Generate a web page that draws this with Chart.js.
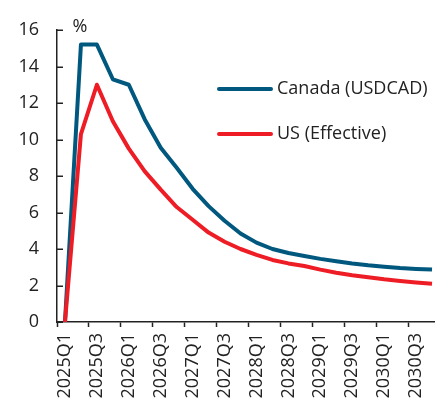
<!DOCTYPE html>
<html>
<head>
<meta charset="utf-8">
<script src="https://cdn.jsdelivr.net/npm/chart.js@4"></script>
<style>
  html, body { margin: 0; padding: 0; background: #fff; overflow: hidden; }
  #wrap { width: 445px; height: 411px; }
</style>
</head>
<body>
<div id="wrap"><canvas id="c" width="445" height="411" style="width:445px;height:411px"></canvas></div>
<script>
// Quarterly categories
const quarters = [
  '2025Q1','2025Q2','2025Q3','2025Q4',
  '2026Q1','2026Q2','2026Q3','2026Q4',
  '2027Q1','2027Q2','2027Q3','2027Q4',
  '2028Q1','2028Q2','2028Q3','2028Q4',
  '2029Q1','2029Q2','2029Q3','2029Q4',
  '2030Q1','2030Q2','2030Q3','2030Q4'
];

// Series values, %
const canadaUSDCAD = [0, 15.2, 15.2, 13.3, 13.0, 11.1, 9.55, 8.45, 7.3, 6.35, 5.55, 4.85,
                      4.35, 4.0, 3.78, 3.62, 3.46, 3.33, 3.21, 3.11, 3.03, 2.96, 2.91, 2.87];
const usEffective  = [0, 10.3, 13.0, 11.0, 9.5, 8.25, 7.25, 6.3, 5.6, 4.9, 4.4, 4.0,
                      3.68, 3.4, 3.21, 3.07, 2.87, 2.7, 2.56, 2.45, 2.34, 2.25, 2.17, 2.1];

// Y-axis tick values and unit
const yTickValues = [0, 2, 4, 6, 8, 10, 12, 14, 16];
const yUnit = '%';

const seriesNames = ['Canada (USDCAD)', 'US (Effective)'];
const BLUE = '#00587f';
const RED = '#ee1c25';
const INK = '#222';
const FONT = '"Open Sans", "Noto Sans", sans-serif';
const FONT_SIZE = 18;

// Inward tick marks on the value axis, the unit label and the inline legend
const decorations = {
  id: 'decorations',
  afterDraw(chart) {
    const { ctx, chartArea } = chart;
    const y = chart.scales.y;
    ctx.save();
    ctx.strokeStyle = INK;
    ctx.lineWidth = 1.5;
    y.ticks.forEach(t => {
      const py = Math.round(y.getPixelForValue(t.value)) + 0.25;
      ctx.beginPath();
      ctx.moveTo(chartArea.left, py);
      ctx.lineTo(chartArea.left + 6, py);
      ctx.stroke();
    });

    ctx.fillStyle = INK;
    ctx.font = FONT_SIZE + 'px ' + FONT;
    ctx.textAlign = 'center';
    ctx.textBaseline = 'middle';
    ctx.fillText(yUnit, chartArea.left + 23, chartArea.top - 3);

    // Legend
    ctx.textAlign = 'left';
    chart.data.datasets.forEach((ds, i) => {
      const ly = chartArea.top + 59 + i * 45;
      ctx.strokeStyle = ds.borderColor;
      ctx.lineWidth = 4;
      ctx.lineCap = 'round';
      ctx.beginPath();
      ctx.moveTo(chartArea.left + 162, ly);
      ctx.lineTo(chartArea.left + 214, ly);
      ctx.stroke();
      ctx.fillStyle = INK;
      ctx.fillText(ds.label, chartArea.left + 220, ly);
    });
    ctx.restore();
  }
};

new Chart(document.getElementById('c'), {
  type: 'line',
  data: {
    labels: quarters,
    datasets: [
      {
        label: seriesNames[0],
        data: canadaUSDCAD,
        borderColor: BLUE,
        backgroundColor: BLUE,
        borderWidth: 4,
        pointRadius: 0,
        tension: 0,
        borderJoinStyle: 'round',
        order: 1
      },
      {
        label: seriesNames[1],
        data: usEffective,
        borderColor: RED,
        backgroundColor: RED,
        borderWidth: 4,
        pointRadius: 0,
        tension: 0,
        borderJoinStyle: 'round',
        order: 0
      }
    ]
  },
  options: {
    responsive: false,
    animation: false,
    layout: { padding: { top: 30, right: 5, left: 0, bottom: 0 } },
    plugins: { legend: { display: false }, tooltip: { enabled: false } },
    scales: {
      x: {
        offset: true,
        grid: {
          offset: true,
          drawOnChartArea: false,
          drawTicks: true,
          tickLength: 5,
          tickWidth: 1.5,
          tickColor: c => (c.index % 2 === 0 ? INK : 'rgba(0,0,0,0)')
        },
        border: { display: true, color: INK, width: 1.5 },
        ticks: {
          autoSkip: false,
          maxRotation: 90,
          minRotation: 90,
          padding: 6,
          color: INK,
          font: { family: FONT, size: FONT_SIZE },
          callback: (v, i) => (i % 2 === 0 ? quarters[i] : '')
        },
        afterFit: s => { s.height = 89; s.paddingLeft = 0; s.paddingRight = 0; }
      },
      y: {
        min: 0,
        max: 16,
        afterBuildTicks: s => { s.ticks = yTickValues.map(v => ({ value: v })); },
        grid: { display: true, drawOnChartArea: false, drawTicks: false },
        border: { display: true, color: INK, width: 1.5 },
        ticks: {
          padding: 18,
          color: INK,
          font: { family: FONT, size: FONT_SIZE }
        },
        afterFit: s => { s.width = 57; }
      }
    }
  },
  plugins: [decorations]
});
</script>
</body>
</html>
